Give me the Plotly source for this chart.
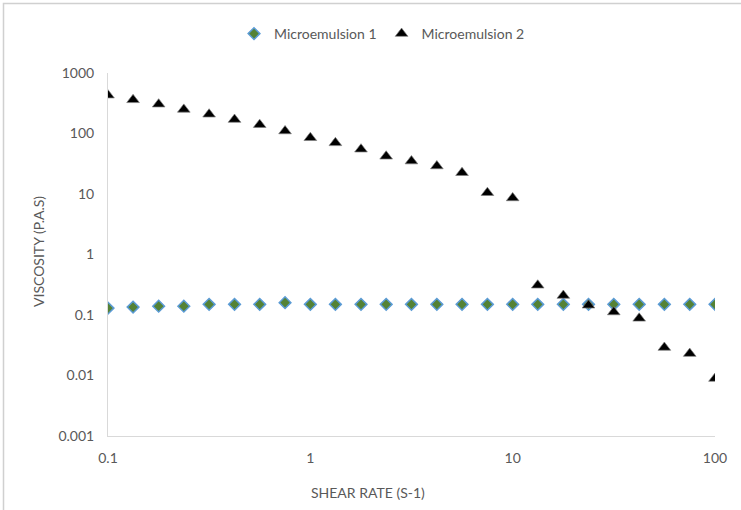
import plotly.graph_objects as go

shear_rate = [0.1, 0.133, 0.178, 0.237, 0.316, 0.422, 0.562, 0.75, 1, 1.33, 1.78, 2.37,
              3.16, 4.22, 5.62, 7.5, 10, 13.3, 17.8, 23.7, 31.6, 42.2, 56.2, 75, 100]
micro1 = [0.13, 0.135, 0.14, 0.14, 0.15, 0.15, 0.15, 0.16, 0.15, 0.15, 0.15, 0.15,
          0.15, 0.15, 0.15, 0.15, 0.15, 0.15, 0.15, 0.15, 0.15, 0.15, 0.15, 0.15, 0.15]
micro2 = [430, 360, 305, 250, 208, 170, 140, 110, 85, 70, 55, 42,
          35, 29, 22.5, 10.5, 8.6, 0.31, 0.21, 0.145, 0.112, 0.088, 0.029, 0.023, 0.0089]

x_ticks = [0.1, 1, 10, 100]
x_labels = ["0.1", "1", "10", "100"]
y_ticks = [0.001, 0.01, 0.1, 1, 10, 100, 1000]
y_labels = ["0.001", "0.01", "0.1", "1", "10", "100", "1000"]

W, H = 741, 510
ML, MR, MT, MB = 108, 26, 73, 74
PW, PH = W - ML - MR, H - MT - MB

def px(x):
    return (x - ML) / PW

def py(y):
    return (H - MB - y) / PH

FONT = "Lato"
TXT = "#595959"

fig = go.Figure()
fig.add_trace(go.Scatter(
    x=shear_rate, y=micro1, mode="markers", name="Microemulsion 1",
    marker=dict(symbol="diamond", size=9, color="#548235",
                line=dict(color="#5B9BD5", width=1.5))))
fig.add_trace(go.Scatter(
    x=shear_rate, y=micro2, mode="markers", name="Microemulsion 2",
    marker=dict(symbol="triangle-up", size=11, color="#000000",
                line=dict(color="#7f7f7f", width=0.7))))

fig.update_layout(
    width=W, height=H,
    margin=dict(l=ML, r=MR, t=MT, b=MB),
    paper_bgcolor="white", plot_bgcolor="white",
    font=dict(family=FONT, size=14, color=TXT),
    showlegend=True,
    legend=dict(orientation="h", x=px(382), y=py(34), xanchor="center", yanchor="middle",
                font=dict(family=FONT, size=14, color=TXT), itemwidth=30,
                bgcolor="rgba(0,0,0,0)"),
    xaxis=dict(type="log", range=[-1, 2], tickvals=x_ticks, ticktext=x_labels,
               showgrid=False, zeroline=False, showline=True, linecolor="#d9d9d9",
               linewidth=1, ticks="", ticklabelstandoff=9,
               tickfont=dict(family=FONT, size=14, color=TXT)),
    yaxis=dict(type="log", range=[-3, 3], tickvals=y_ticks, ticktext=y_labels,
               showgrid=False, zeroline=False, showline=True, linecolor="#d9d9d9",
               linewidth=1, ticks="", ticklabelstandoff=10,
               tickfont=dict(family=FONT, size=14, color=TXT)),
    annotations=[
        dict(text="SHEAR RATE (S-1)", xref="paper", yref="paper", x=px(368), y=py(493),
             xanchor="center", yanchor="middle", showarrow=False,
             font=dict(family=FONT, size=14, color=TXT)),
        dict(text="VISCOSITY (P.A.S)", xref="paper", yref="paper", x=px(38), y=py(252),
             xanchor="center", yanchor="middle", showarrow=False, textangle=-90,
             font=dict(family=FONT, size=14, color=TXT)),
    ],
    shapes=[
        dict(type="rect", xref="paper", yref="paper", x0=px(3.5), y0=py(530), x1=px(760), y1=py(3.5),
             line=dict(color="#d0d0d0", width=1.5), fillcolor="rgba(0,0,0,0)", layer="below"),
    ],
)

fig.write_html("out.html")
